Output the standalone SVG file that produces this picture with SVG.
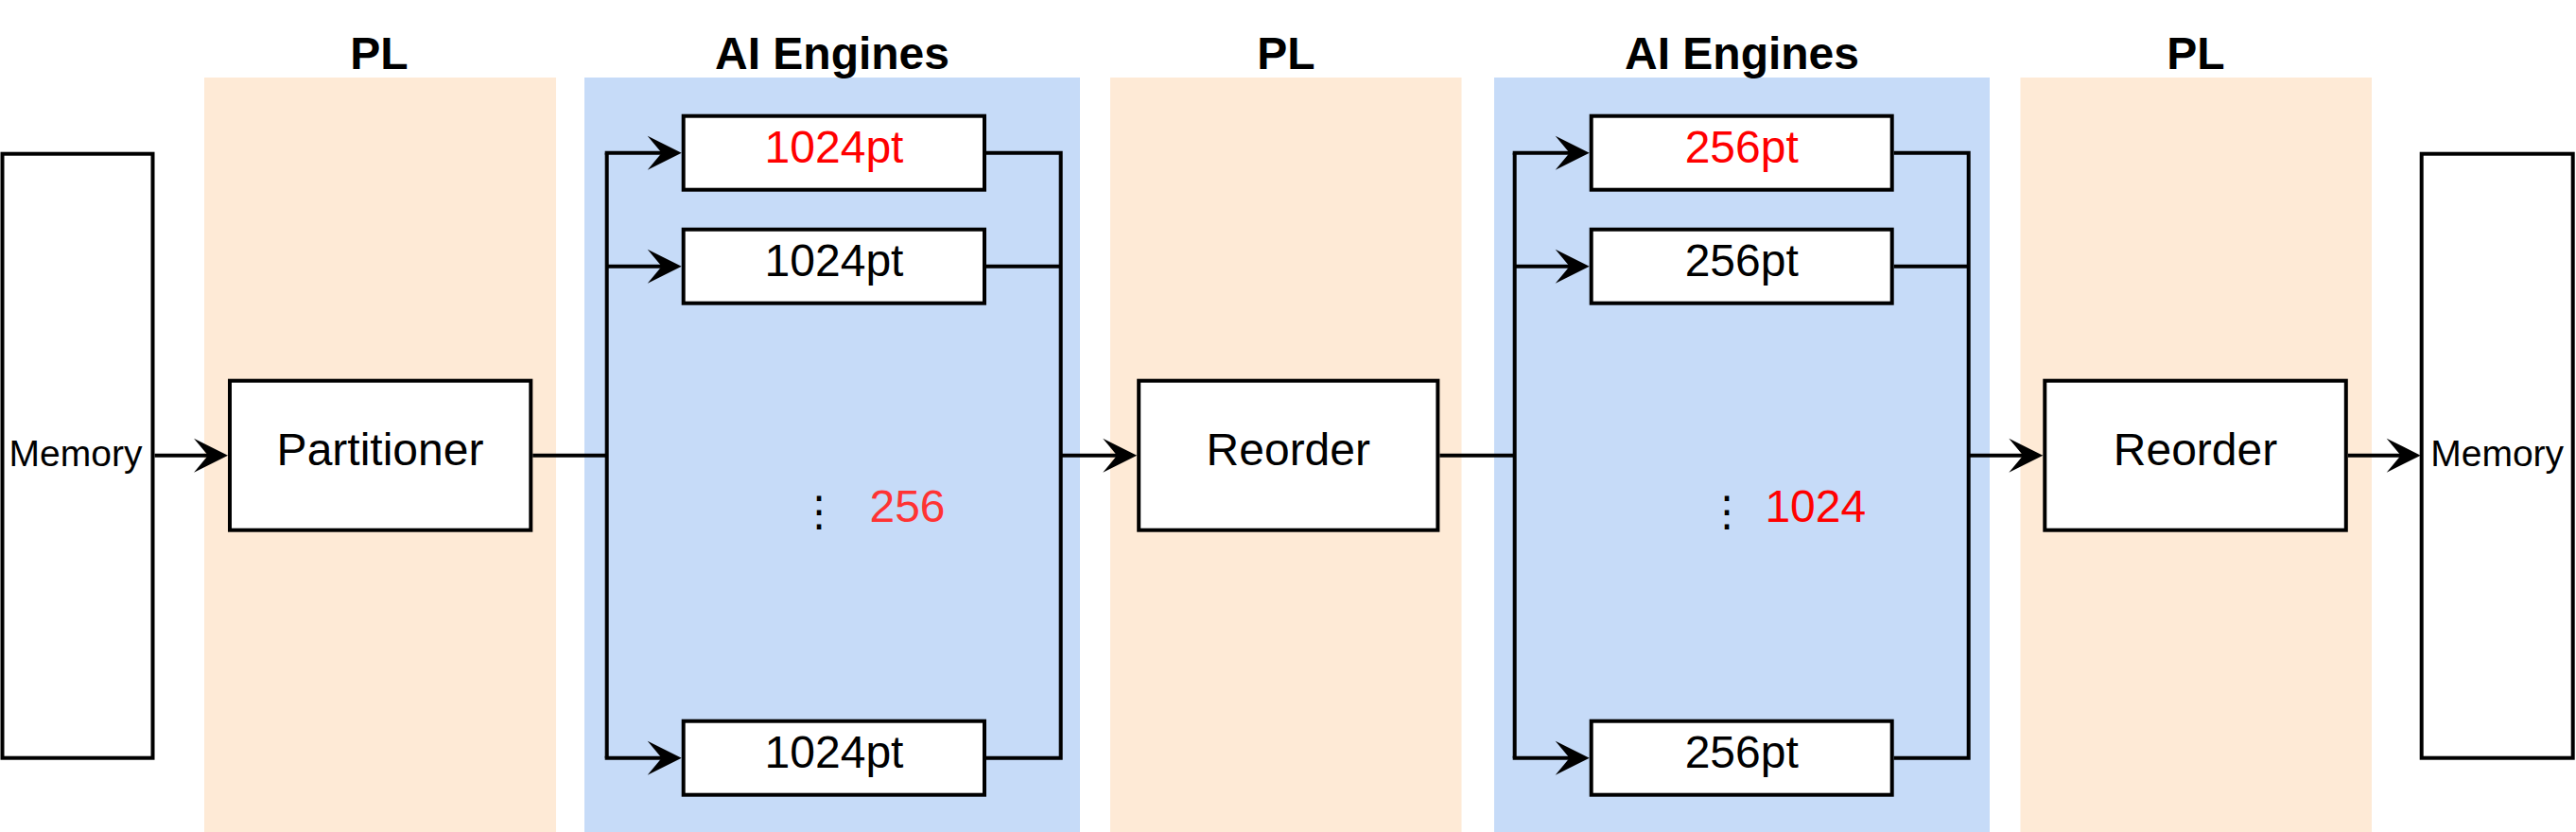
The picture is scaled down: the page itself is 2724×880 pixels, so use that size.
<svg xmlns="http://www.w3.org/2000/svg" width="2724" height="880" viewBox="0 0 2724 880">
<style>
.pl{fill:#FEEAD6}
.ai{fill:#C6DBF8}
.box{fill:#FFFFFF;stroke:#000000;stroke-width:4}
.t{font-family:"Liberation Sans",Arial,Helvetica,sans-serif;font-size:48px;fill:#000000;text-anchor:middle}
.title{font-family:"Liberation Sans",Arial,Helvetica,sans-serif;font-size:48px;font-weight:bold;fill:#000000;text-anchor:middle}
.mem{font-family:"Liberation Sans",Arial,Helvetica,sans-serif;font-size:39px;fill:#000000;text-anchor:middle}
.red{fill:#FF0000}
.red2{fill:#FF3333}
.dots{font-family:"DejaVu Sans",sans-serif;font-size:44px;fill:#000000;text-anchor:middle}
.ln{fill:none;stroke:#000000;stroke-width:4}
</style>
<defs>
<marker id="arr" markerUnits="userSpaceOnUse" markerWidth="40" markerHeight="40" viewBox="-18 -20 40 40" refX="0" refY="0" orient="auto">
<path d="M20,0 L-16,-18 L-1,0 L-16,18 Z" fill="#000000"/>
</marker>
</defs>

<g id="bands">
<rect id="band-pl1" class="pl" x="216" y="82" width="372" height="798"/>
<rect id="band-ai1" class="ai" x="618" y="82" width="524" height="798"/>
<rect id="band-pl2" class="pl" x="1174" y="82" width="371.5" height="798"/>
<rect id="band-ai2" class="ai" x="1580" y="82" width="524" height="798"/>
<rect id="band-pl3" class="pl" x="2136.5" y="82" width="371.5" height="798"/>
<text class="title" x="401" y="72.7">PL</text>
<text class="title" x="880" y="72.7">AI Engines</text>
<text class="title" x="1360" y="72.7">PL</text>
<text class="title" x="1842" y="72.7">AI Engines</text>
<text class="title" x="2322" y="72.7">PL</text>
</g>

<g id="connectors">
<line class="ln" x1="163.5" y1="481.7" x2="221" y2="481.7" marker-end="url(#arr)"/>
<polyline class="ln" points="563.3,481.7 641.7,481.7"/>
<line class="ln" x1="641.7" y1="161.7" x2="641.7" y2="801.7"/>
<polyline class="ln" points="639.7,161.7 700.7,161.7" marker-end="url(#arr)"/>
<polyline class="ln" points="641.7,281.7 700.7,281.7" marker-end="url(#arr)"/>
<polyline class="ln" points="639.7,801.7 700.7,801.7" marker-end="url(#arr)"/>
<polyline class="ln" points="1043,161.7 1121.7,161.7 1121.7,801.7 1043,801.7"/>
<line class="ln" x1="1043" y1="281.7" x2="1121.7" y2="281.7"/>
<line class="ln" x1="1121.7" y1="481.7" x2="1182.2" y2="481.7" marker-end="url(#arr)"/>
<polyline class="ln" points="1522.4,481.7 1601.7,481.7"/>
<line class="ln" x1="1601.7" y1="161.7" x2="1601.7" y2="801.7"/>
<polyline class="ln" points="1599.7,161.7 1660.7,161.7" marker-end="url(#arr)"/>
<polyline class="ln" points="1601.7,281.7 1660.7,281.7" marker-end="url(#arr)"/>
<polyline class="ln" points="1599.7,801.7 1660.7,801.7" marker-end="url(#arr)"/>
<polyline class="ln" points="2002.7,161.7 2081.7,161.7 2081.7,801.7 2002.7,801.7"/>
<line class="ln" x1="2002.7" y1="281.7" x2="2081.7" y2="281.7"/>
<line class="ln" x1="2081.7" y1="481.7" x2="2140.3" y2="481.7" marker-end="url(#arr)"/>
<line class="ln" x1="2482.8" y1="481.7" x2="2539.7" y2="481.7" marker-end="url(#arr)"/>
</g>

<g id="memory-in">
<rect class="box" x="2.5" y="162.7" width="159" height="639"/>
<text class="mem" x="80" y="493">Memory</text>
</g>

<g id="partitioner">
<rect class="box" x="243" y="402.7" width="318.3" height="158"/>
<text class="t" x="402" y="491.7">Partitioner</text>
</g>

<g id="fft1024-a">
<rect class="box" x="722.7" y="122.7" width="318.3" height="78"/>
<text class="t red" x="882" y="171.7">1024pt</text>
</g>
<g id="fft1024-b">
<rect class="box" x="722.7" y="242.7" width="318.3" height="78"/>
<text class="t" x="882" y="291.7">1024pt</text>
</g>
<g id="fft1024-n">
<rect class="box" x="722.7" y="762.7" width="318.3" height="78"/>
<text class="t" x="882" y="811.7">1024pt</text>
</g>
<g id="count1">
<text class="dots" x="866.3" y="556">⋮</text>
<text class="t red2" x="959.5" y="552.3">256</text>
</g>

<g id="reorder1">
<rect class="box" x="1204.2" y="402.7" width="316.2" height="158"/>
<text class="t" x="1362.3" y="491.7">Reorder</text>
</g>

<g id="fft256-a">
<rect class="box" x="1682.7" y="122.7" width="318" height="78"/>
<text class="t red" x="1841.7" y="171.7">256pt</text>
</g>
<g id="fft256-b">
<rect class="box" x="1682.7" y="242.7" width="318" height="78"/>
<text class="t" x="1841.7" y="291.7">256pt</text>
</g>
<g id="fft256-n">
<rect class="box" x="1682.7" y="762.7" width="318" height="78"/>
<text class="t" x="1841.7" y="811.7">256pt</text>
</g>
<g id="count2">
<text class="dots" x="1826.3" y="556">⋮</text>
<text class="t red" x="1919.8" y="552.3">1024</text>
</g>

<g id="reorder2">
<rect class="box" x="2162.3" y="402.7" width="318.5" height="158"/>
<text class="t" x="2321.5" y="491.7">Reorder</text>
</g>

<g id="memory-out">
<rect class="box" x="2560.7" y="162.7" width="160" height="639"/>
<text class="mem" x="2640.7" y="493">Memory</text>
</g>
</svg>
